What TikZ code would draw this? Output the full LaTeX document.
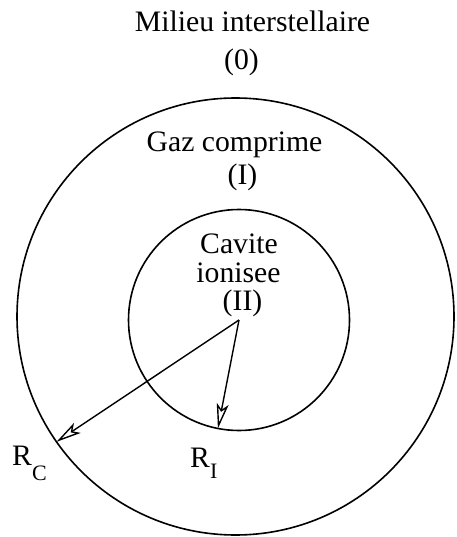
\documentclass[tikz,border=0pt]{standalone}
\usepackage{fontspec}
\setmainfont{Liberation Serif}
\usepackage{tikz}
\usetikzlibrary{arrows.meta}

\begin{document}
\begin{tikzpicture}[
    x=1pt, y=-1pt,
    lbl/.style={anchor=base, inner sep=0pt, font=\fontsize{29.7}{34}\selectfont},
    zone/.style={circle, draw, line width=1.6pt, outer sep=0pt, inner sep=0pt},
    rayon/.style={-{Stealth[open, length=25pt, width=12pt, inset=6pt]}, line width=1.4pt}
]
\useasboundingbox (0,0) rectangle (456,537);
\begin{scope}
\clip (0,0) rectangle (456,537);
\node[zone, minimum size=437pt] (outer) at (235.5,316.5) {};
\end{scope}
\node[zone, minimum size=221pt] (inner) at (239,320) {};
% labels des regions
\node[lbl] (milieu) at (252.5,32) {Milieu interstellaire};
\node[lbl] (zero) at (241.5,70) {(0)};
\node[lbl] (gaz) at (234.5,152) {Gaz comprime};
\node[lbl] (un) at (242.5,185) {(I)};
\node[lbl] (cavite) at (239,253) {Cavite};
\node[lbl] (ionisee) at (238.5,282) {ionisee};
\node[lbl] (deux) at (242.5,310) {(II)};
% rayons
\node[lbl, anchor=base west] (rc) at (12,465) {R\raisebox{-15pt}{\fontsize{22}{26}\selectfont C}};
\node[lbl, anchor=base west] (ri) at (190,467) {R\raisebox{-11pt}{\fontsize{22}{26}\selectfont I}};
\draw[rayon] (inner.center) -- (outer.215.5);
\draw[rayon] (inner.center) -- (inner.259);
\end{tikzpicture}
\end{document}
